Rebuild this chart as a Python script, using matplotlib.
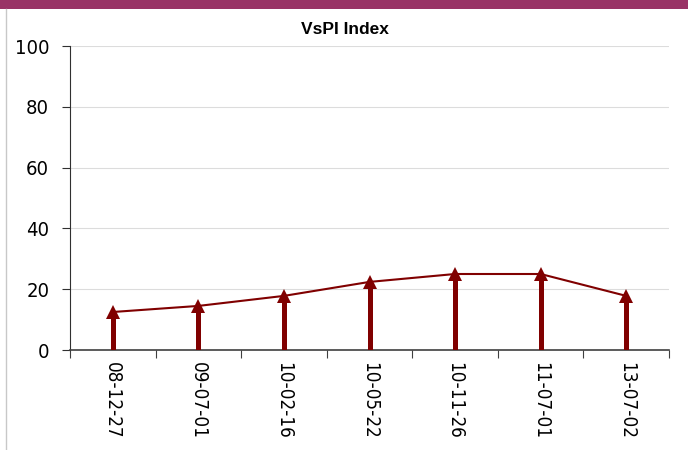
import os
import matplotlib
matplotlib.use("Agg")
import matplotlib.pyplot as plt
from matplotlib import font_manager
from matplotlib.patches import Rectangle
from matplotlib.lines import Line2D

dates = ["08-12-27", "09-07-01", "10-02-16", "10-05-22", "10-11-26", "11-07-01", "13-07-02"]
values = [12.5, 14.5, 17.8, 22.4, 25.0, 25.0, 17.8]
yticks = [0, 20, 40, 60, 80, 100]
title = "VsPI Index"

cond_path = "/usr/share/fonts/truetype/dejavu/DejaVuSansCondensed.ttf"
if os.path.exists(cond_path):
    fp = font_manager.FontProperties(fname=cond_path)
else:
    fp = font_manager.FontProperties(family="DejaVu Sans", stretch="condensed")

fig = plt.figure(figsize=(6.88, 4.5), dpi=100)
W, H = 688, 450
fig.patches.append(Rectangle((0, 1 - 9 / H), 1, 9 / H, transform=fig.transFigure,
                             facecolor="#993366", edgecolor="none"))
fig.lines.append(Line2D([6 / W, 6 / W], [0, 1 - 9 / H], transform=fig.transFigure,
                        color="#c8c8c8", lw=1))

ax = fig.add_axes([70 / W, 1 - 350 / H, (669 - 70) / W, (350 - 46) / H])
n = len(dates)
xs = list(range(n))
ax.set_xlim(-0.5, n - 0.5)
ax.set_ylim(0, 100)
ax.set_yticks(yticks)
ax.set_yticklabels([str(v) for v in yticks], fontproperties=fp, fontsize=14.5)
ax.set_xticks([i - 0.5 for i in range(n + 1)])
ax.set_xticklabels([])
ax.set_xticks(xs, minor=True)
ax.set_xticklabels(dates, minor=True, rotation=270, fontproperties=fp, fontsize=13.5,
                   va="top", ha="center")
ax.tick_params(axis="x", which="major", direction="out", length=6, color="#404040")
ax.tick_params(axis="x", which="minor", length=0, pad=9)
ax.tick_params(axis="y", direction="out", length=6, color="#303030", pad=9)
for y in yticks[1:]:
    ax.axhline(y, color="#dcdcdc", lw=0.8, zorder=0)
for s in ["top", "right"]:
    ax.spines[s].set_visible(False)
ax.spines["left"].set_color("#303030")
ax.spines["bottom"].set_color("#404040")
ax.spines["bottom"].set_linewidth(1.2)

ax.plot(xs, values, color="#800000", lw=1.5, zorder=3)
ax.vlines(xs, 0, values, color="#800000", lw=3.6, zorder=4)
ax.plot(xs, values, linestyle="none", marker="^", markersize=10.5,
        color="#800000", markeredgewidth=0, zorder=5)

fig.text(345 / W, 1 - 30 / H, title, ha="center", va="center", fontsize=12.5,
         fontweight="bold", fontname="Liberation Sans")
fig.savefig("out.png", dpi=100)
